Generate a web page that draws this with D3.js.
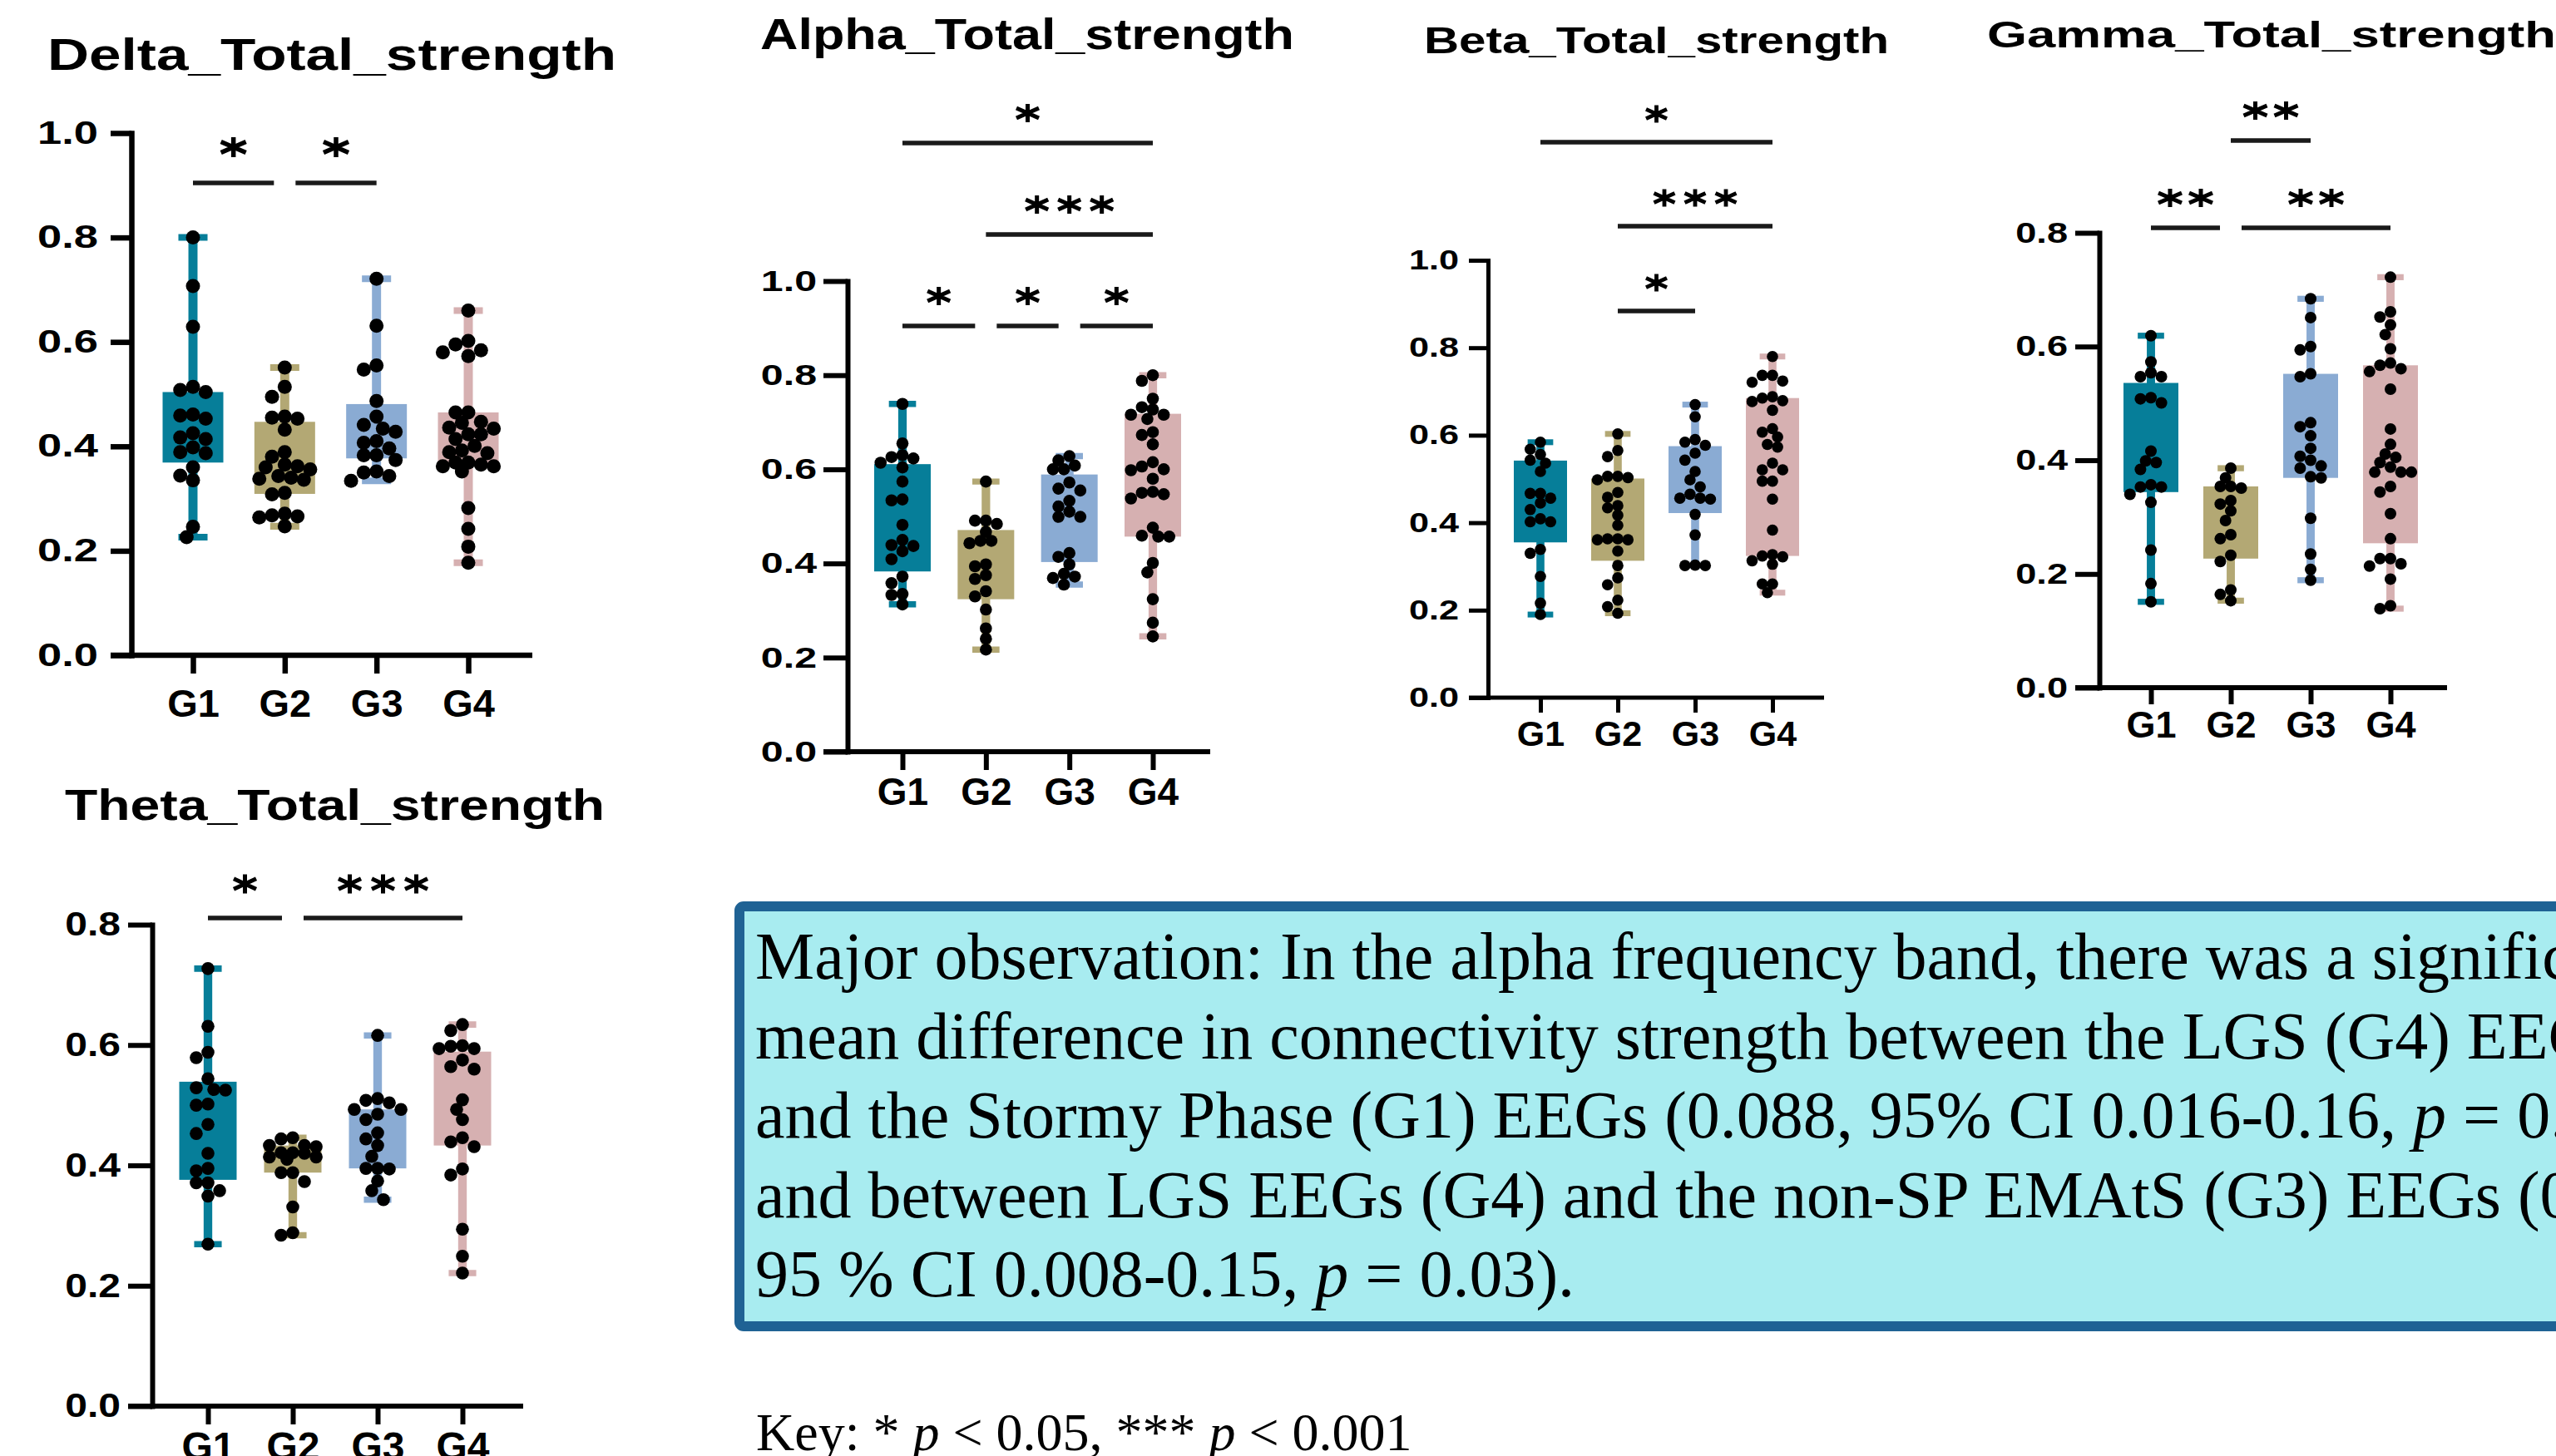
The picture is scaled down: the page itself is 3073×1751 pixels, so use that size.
<!DOCTYPE html>
<html>
<head>
<meta charset="utf-8">
<script src="https://cdn.jsdelivr.net/npm/d3@7"></script>
<style>
  body { margin: 0; background: #fff; }
  svg { display: block; }
</style>
</head>
<body>
<svg id="fig" width="3073" height="1751"></svg>
<script>
// ---- data ----
const groups = ["G1", "G2", "G3", "G4"];
const groupColors = ["#067e99", "#b3a874", "#8aabd3", "#d6b0b1"];
const ticksTo1 = [0, 0.2, 0.4, 0.6, 0.8, 1.0];
const ticksTo08 = [0, 0.2, 0.4, 0.6, 0.8];

const deltaG1 = [0.800, 0.707, 0.629, 0.514, 0.508, 0.504, 0.461, 0.459, 0.453, 0.425, 0.417, 0.414, 0.398, 0.389, 0.387, 0.360, 0.344, 0.335, 0.246, 0.226];
const deltaG2 = [0.551, 0.514, 0.495, 0.457, 0.455, 0.453, 0.432, 0.389, 0.380, 0.365, 0.362, 0.360, 0.356, 0.343, 0.340, 0.338, 0.336, 0.311, 0.308, 0.271, 0.268, 0.266, 0.264, 0.247];
const deltaG3 = [0.721, 0.631, 0.555, 0.547, 0.487, 0.457, 0.441, 0.434, 0.428, 0.410, 0.407, 0.396, 0.383, 0.383, 0.374, 0.352, 0.350, 0.343, 0.334];
const deltaG4 = [0.660, 0.602, 0.595, 0.584, 0.580, 0.573, 0.465, 0.465, 0.447, 0.445, 0.436, 0.434, 0.423, 0.423, 0.414, 0.401, 0.392, 0.389, 0.387, 0.369, 0.369, 0.365, 0.362, 0.362, 0.352, 0.282, 0.242, 0.208, 0.177];
const deltaQ1 = [0.369, 0.309, 0.377, 0.363];
const deltaQ3 = [0.504, 0.447, 0.481, 0.465];
const deltaSig = [["G1", "G2", "*", 0], ["G2", "G3", "*", 0]];

const alphaG1 = [0.739, 0.655, 0.630, 0.626, 0.623, 0.614, 0.604, 0.574, 0.536, 0.534, 0.482, 0.450, 0.439, 0.437, 0.426, 0.409, 0.372, 0.358, 0.335, 0.333, 0.313];
const alphaG2 = [0.574, 0.491, 0.491, 0.484, 0.467, 0.448, 0.448, 0.443, 0.398, 0.394, 0.375, 0.367, 0.341, 0.330, 0.302, 0.262, 0.240, 0.217];
const alphaG3 = [0.628, 0.619, 0.608, 0.600, 0.600, 0.572, 0.559, 0.555, 0.533, 0.521, 0.510, 0.499, 0.499, 0.422, 0.414, 0.398, 0.378, 0.372, 0.369, 0.355];
const alphaG4 = [0.800, 0.788, 0.750, 0.732, 0.727, 0.716, 0.716, 0.707, 0.679, 0.673, 0.653, 0.615, 0.606, 0.600, 0.598, 0.580, 0.552, 0.550, 0.547, 0.538, 0.476, 0.459, 0.457, 0.457, 0.401, 0.381, 0.324, 0.274, 0.245];
const alphaQ1 = [0.383, 0.324, 0.403, 0.457];
const alphaQ3 = [0.611, 0.471, 0.589, 0.718];
const alphaSig = [["G1", "G2", "*", 0], ["G2", "G3", "*", 0], ["G3", "G4", "*", 0], ["G2", "G4", "***", 1], ["G1", "G4", "*", 2]];

const betaG1 = [0.584, 0.568, 0.556, 0.543, 0.536, 0.517, 0.467, 0.467, 0.456, 0.445, 0.430, 0.409, 0.402, 0.402, 0.339, 0.330, 0.277, 0.216, 0.190];
const betaG2 = [0.603, 0.565, 0.551, 0.506, 0.506, 0.503, 0.498, 0.469, 0.458, 0.439, 0.434, 0.417, 0.394, 0.363, 0.363, 0.361, 0.361, 0.335, 0.302, 0.274, 0.258, 0.223, 0.208, 0.193];
const betaG3 = [0.670, 0.642, 0.590, 0.584, 0.577, 0.559, 0.543, 0.517, 0.498, 0.482, 0.465, 0.456, 0.456, 0.454, 0.419, 0.372, 0.303, 0.302, 0.302];
const betaG4 = [0.780, 0.737, 0.737, 0.724, 0.721, 0.688, 0.685, 0.679, 0.677, 0.657, 0.615, 0.607, 0.596, 0.579, 0.573, 0.536, 0.521, 0.521, 0.495, 0.495, 0.454, 0.383, 0.327, 0.324, 0.322, 0.313, 0.305, 0.260, 0.260, 0.240];
const betaQ1 = [0.355, 0.313, 0.422, 0.324];
const betaQ3 = [0.542, 0.501, 0.575, 0.685];
const betaSig = [["G2", "G3", "*", 0], ["G2", "G4", "***", 1], ["G1", "G4", "*", 2]];

const gammaG1 = [0.619, 0.573, 0.554, 0.547, 0.547, 0.510, 0.508, 0.501, 0.416, 0.399, 0.396, 0.384, 0.357, 0.353, 0.353, 0.340, 0.326, 0.242, 0.183, 0.151];
const gammaG2 = [0.386, 0.369, 0.354, 0.354, 0.351, 0.329, 0.323, 0.311, 0.294, 0.269, 0.262, 0.233, 0.222, 0.172, 0.164, 0.153];
const gammaG3 = [0.684, 0.651, 0.600, 0.594, 0.552, 0.547, 0.466, 0.459, 0.443, 0.421, 0.407, 0.400, 0.390, 0.386, 0.371, 0.369, 0.298, 0.235, 0.208, 0.189];
const gammaG4 = [0.722, 0.661, 0.652, 0.638, 0.621, 0.596, 0.571, 0.567, 0.561, 0.556, 0.525, 0.455, 0.428, 0.411, 0.405, 0.396, 0.388, 0.379, 0.379, 0.379, 0.354, 0.344, 0.306, 0.262, 0.227, 0.227, 0.218, 0.214, 0.191, 0.144, 0.139];
const gammaQ1 = [0.344, 0.227, 0.369, 0.254];
const gammaQ3 = [0.536, 0.354, 0.552, 0.567];
const gammaSig = [["G1", "G2", "**", 0], ["G2", "G4", "**", 0], ["G2", "G3", "**", 1]];

const thetaG1 = [0.727, 0.631, 0.588, 0.579, 0.544, 0.529, 0.526, 0.525, 0.502, 0.500, 0.468, 0.453, 0.420, 0.395, 0.391, 0.371, 0.371, 0.358, 0.349, 0.269];
const thetaG2 = [0.446, 0.444, 0.433, 0.433, 0.431, 0.421, 0.421, 0.420, 0.414, 0.414, 0.410, 0.388, 0.388, 0.373, 0.331, 0.288, 0.284];
const thetaG3 = [0.616, 0.511, 0.508, 0.504, 0.493, 0.493, 0.485, 0.476, 0.454, 0.444, 0.433, 0.415, 0.395, 0.395, 0.394, 0.374, 0.358, 0.343];
const thetaG4 = [0.634, 0.624, 0.599, 0.598, 0.594, 0.594, 0.575, 0.564, 0.560, 0.509, 0.493, 0.476, 0.446, 0.439, 0.431, 0.394, 0.384, 0.294, 0.249, 0.221];
const thetaQ1 = [0.376, 0.388, 0.395, 0.433];
const thetaQ3 = [0.539, 0.433, 0.493, 0.589];
const thetaSig = [["G1", "G2", "*", 0], ["G2", "G4", "***", 0]];

const noteLines = [
  [["Major observation: In the alpha frequency band, there was a significant"]],
  [["mean difference in connectivity strength between the LGS (G4) EEGs"]],
  [["and the Stormy Phase (G1) EEGs (0.088, 95% CI 0.016-0.16, "], ["p", true], [" = 0.0"]],
  [["and between LGS EEGs (G4) and the non-SP EMAtS (G3) EEGs (0.0"]],
  [["95 % CI 0.008-0.15, "], ["p", true], [" = 0.03)."]]
];
const keyLine = [["Key: * "], ["p", true], [" < 0.05, *** "], ["p", true], [" < 0.001"]];

// ---- layout ----
const sans = "'Liberation Sans', Arial, sans-serif";
const serif = "'Liberation Serif', 'Times New Roman', serif";
const svg = d3.select("#fig");

const panels = [
  { title: "Delta_Total_strength", data: [deltaG1, deltaG2, deltaG3, deltaG4], q1: deltaQ1, q3: deltaQ3, sig: deltaSig,
    tx: 57, ty: 84, tfs: 54, tw: 684, axisX: 158, tickLeft: 133, xEnd: 640, yTop: 160, yBottom: 788, yMax: 1, ticks: ticksTo1,
    c1: 232, c4: 563, boxW: 73, dotR: 8.5, axisW: 6.5, tickFs: 38, tickStretch: 1.38, labelRight: 118, xfs: 47, xBase: 862, xTick: 22,
    sigY: [220], starDy: 43, starW: 30, starH: 24, starGap: 40, starSW: 5.5 },
  { title: "Alpha_Total_strength", data: [alphaG1, alphaG2, alphaG3, alphaG4], q1: alphaQ1, q3: alphaQ3, sig: alphaSig,
    tx: 914, ty: 59, tfs: 52, tw: 642, axisX: 1019, tickLeft: 990, xEnd: 1455, yTop: 338, yBottom: 904, yMax: 1, ticks: ticksTo1,
    c1: 1085, c4: 1386, boxW: 68, dotR: 7.3, axisW: 6, tickFs: 35, tickStretch: 1.38, labelRight: 982, xfs: 46, xBase: 968, xTick: 22,
    sigY: [392, 282, 172], starDy: 36, starW: 27, starH: 22, starGap: 39, starSW: 5 },
  { title: "Beta_Total_strength", data: [betaG1, betaG2, betaG3, betaG4], q1: betaQ1, q3: betaQ3, sig: betaSig,
    tx: 1712, ty: 64, tfs: 45, tw: 559, axisX: 1789, tickLeft: 1766, xEnd: 2193, yTop: 313, yBottom: 839, yMax: 1, ticks: ticksTo1,
    c1: 1852, c4: 2131, boxW: 64, dotR: 6.8, axisW: 5, tickFs: 33, tickStretch: 1.31, labelRight: 1754, xfs: 43, xBase: 897, xTick: 18,
    sigY: [374, 272, 171], starDy: 34, starW: 25, starH: 21, starGap: 37, starSW: 4.8 },
  { title: "Gamma_Total_strength", data: [gammaG1, gammaG2, gammaG3, gammaG4], q1: gammaQ1, q3: gammaQ3, sig: gammaSig,
    tx: 2389, ty: 57, tfs: 44, tw: 684, axisX: 2524, tickLeft: 2495, xEnd: 2942, yTop: 280, yBottom: 827, yMax: 0.8, ticks: ticksTo08,
    c1: 2586, c4: 2874, boxW: 66, dotR: 7, axisW: 6, tickFs: 35, tickStretch: 1.29, labelRight: 2486, xfs: 45, xBase: 887, xTick: 20,
    sigY: [274, 169], starDy: 36, starW: 28, starH: 22, starGap: 37, starSW: 5 },
  { title: "Theta_Total_strength", data: [thetaG1, thetaG2, thetaG3, thetaG4], q1: thetaQ1, q3: thetaQ3, sig: thetaSig,
    tx: 78, ty: 986, tfs: 52, tw: 649, axisX: 183, tickLeft: 154, xEnd: 629, yTop: 1112, yBottom: 1691, yMax: 0.8, ticks: ticksTo08,
    c1: 250, c4: 556, boxW: 69, dotR: 7.8, axisW: 6, tickFs: 40, tickStretch: 1.2, labelRight: 145, xfs: 48, xBase: 1756, xTick: 22,
    sigY: [1104], starDy: 41, starW: 27, starH: 23, starGap: 40, starSW: 5 }
];

// compact beeswarm: top down, nearest free offset inside the box,
// and when nothing is free the least crowded slot (dots may overlap)
function swarm(values, y, r, halfW) {
  const step = r * 0.9, minD = r * 1.7;
  const cands = [0];
  for (let k = 1; k * step <= halfW; k++) cands.push(-k * step, k * step);
  const placed = [];
  values.slice().sort((a, b) => b - a).forEach(v => {
    const py = y(v);
    let best = 0, bestD = -1;
    for (const c of cands) {
      const d = placed.length ? d3.min(placed, p => Math.hypot(p.dx - c, p.y - py)) : Infinity;
      if (d >= minD) { best = c; bestD = d; break; }
      if (d > bestD * 1.15) { best = c; bestD = d; }
    }
    placed.push({ v: v, dx: best, y: py });
  });
  return placed;
}

function starPath(cx, cy, w, h) {
  const p = d3.path();
  p.moveTo(cx, cy - h / 2); p.lineTo(cx, cy + h / 2);
  p.moveTo(cx - w / 2, cy - h * 0.27); p.lineTo(cx + w / 2, cy + h * 0.27);
  p.moveTo(cx - w / 2, cy + h * 0.27); p.lineTo(cx + w / 2, cy - h * 0.27);
  return p.toString();
}

function drawPanel(p) {
  const g = svg.append("g");
  const y = d3.scaleLinear().domain([0, p.yMax]).range([p.yBottom, p.yTop]);
  const x = d3.scalePoint().domain(groups).range([p.c1, p.c4]);

  g.append("text")
    .attr("x", p.tx).attr("y", p.ty)
    .attr("font-family", sans).attr("font-weight", 700).attr("font-size", p.tfs)
    .attr("textLength", p.tw).attr("lengthAdjust", "spacingAndGlyphs")
    .text(p.title);

  // y axis
  let yAxis = g.append("g")
    .attr("transform", "translate(" + p.axisX + ",0)")
    .call(d3.axisLeft(y).tickValues(p.ticks).tickFormat(d3.format(".1f"))
      .tickSize(p.axisX - p.tickLeft).tickSizeOuter(0).tickPadding(p.tickLeft - p.labelRight));
  yAxis.select(".domain").attr("stroke", "#000").attr("stroke-width", p.axisW).attr("stroke-linecap", "square");
  yAxis.selectAll(".tick line").attr("stroke", "#000").attr("stroke-width", p.axisW);
  yAxis.selectAll(".tick text")
    .attr("fill", "#000").attr("font-family", sans).attr("font-weight", 700).attr("font-size", p.tickFs)
    .each(function () {
      let w = this.getComputedTextLength();
      d3.select(this).attr("textLength", w * p.tickStretch).attr("lengthAdjust", "spacingAndGlyphs");
    });

  // x axis
  let pad = p.xBase - p.yBottom - p.xTick - 0.71 * p.xfs;
  let xAxis = g.append("g")
    .attr("transform", "translate(0," + p.yBottom + ")")
    .call(d3.axisBottom(x).tickSize(p.xTick).tickSizeOuter(0).tickPadding(pad));
  xAxis.select(".domain").remove();
  xAxis.selectAll(".tick line").attr("stroke", "#000").attr("stroke-width", p.axisW);
  xAxis.selectAll(".tick text")
    .attr("fill", "#000").attr("font-family", sans).attr("font-weight", 700).attr("font-size", p.xfs);
  g.append("line")
    .attr("x1", p.tickLeft).attr("x2", p.xEnd)
    .attr("y1", p.yBottom).attr("y2", p.yBottom)
    .attr("stroke", "#000").attr("stroke-width", p.axisW);

  // boxes and whiskers
  let ww = p.boxW * 0.15, capW = p.boxW * 0.48, capT = p.boxW * 0.11;
  groups.forEach(function (gr, i) {
    let vals = p.data[i];
    let ext = d3.extent(vals);
    let cx = x(gr);
    let col = groupColors[i];
    g.append("line").attr("x1", cx).attr("x2", cx).attr("y1", y(ext[0])).attr("y2", y(ext[1]))
      .attr("stroke", col).attr("stroke-width", ww);
    ext.forEach(function (v) {
      g.append("line").attr("x1", cx - capW / 2).attr("x2", cx + capW / 2).attr("y1", y(v)).attr("y2", y(v))
        .attr("stroke", col).attr("stroke-width", capT);
    });
    g.append("rect")
      .attr("x", cx - p.boxW / 2).attr("y", y(p.q3[i]))
      .attr("width", p.boxW).attr("height", y(p.q1[i]) - y(p.q3[i]))
      .attr("fill", col);
  });

  // dots
  groups.forEach(function (gr, i) {
    let pts = swarm(p.data[i], y, p.dotR, p.boxW / 2 - p.dotR * 0.6);
    g.selectAll(null).data(pts).enter().append("circle")
      .attr("cx", d => x(gr) + d.dx)
      .attr("cy", d => d.y)
      .attr("r", p.dotR)
      .attr("fill", "#000");
  });

  // significance bars
  let gap = 13;
  p.sig.forEach(function (s) {
    let others = p.sig.filter(o => o !== s && o[3] === s[3]);
    let x1 = x(s[0]), x2 = x(s[1]);
    if (others.some(o => o[1] === s[0])) x1 += gap;
    if (others.some(o => o[0] === s[1])) x2 -= gap;
    let ly = p.sigY[s[3]];
    g.append("line").attr("x1", x1).attr("x2", x2).attr("y1", ly).attr("y2", ly)
      .attr("stroke", "#1a1a1a").attr("stroke-width", 5.5);
    let n = s[2].length, mid = (x1 + x2) / 2;
    for (let k = 0; k < n; k++) {
      let cx = mid + (k - (n - 1) / 2) * p.starGap;
      g.append("path").attr("d", starPath(cx, ly - p.starDy, p.starW, p.starH))
        .attr("fill", "none").attr("stroke", "#000").attr("stroke-width", p.starSW);
    }
  });
}

panels.forEach(drawPanel);

// ---- observation box ----
svg.append("rect")
  .attr("x", 889).attr("y", 1090).attr("width", 2400).attr("height", 505)
  .attr("rx", 5)
  .attr("fill", "#a8ecf0").attr("stroke", "#1f6294").attr("stroke-width", 12);

function writeLine(segs, xPos, yPos, size) {
  let t = svg.append("text").attr("x", xPos).attr("y", yPos)
    .attr("font-family", serif).attr("font-size", size).attr("fill", "#000")
    .attr("xml:space", "preserve");
  segs.forEach(function (s) {
    t.append("tspan").attr("font-style", s[1] ? "italic" : "normal").text(s[0]);
  });
}

noteLines.forEach(function (segs, i) {
  writeLine(segs, 908, 1177 + i * 95.5, 80);
});
writeLine(keyLine, 909, 1744, 64);
</script>
</body>
</html>
